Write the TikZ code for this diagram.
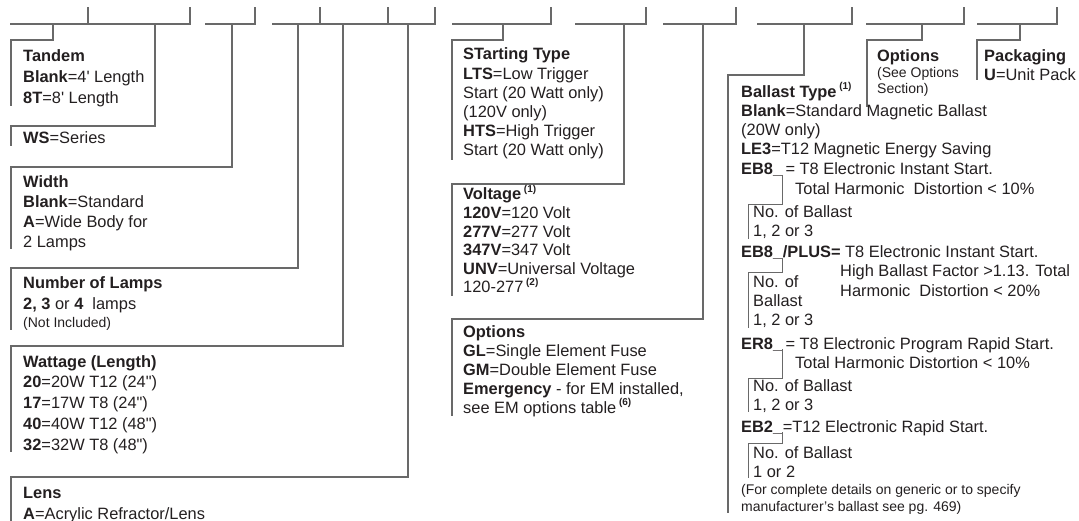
\documentclass[tikz,border=0pt]{standalone}
\usepackage{fontspec}
\setmainfont{Liberation Sans}
\definecolor{rulegray}{RGB}{105,105,105}
\definecolor{ink}{RGB}{35,31,32}
\tikzset{
  guideline/.style = { line width=1.2pt, color=rulegray },
   subguide/.style = { line width=0.9pt, color=rulegray },
      entry/.style = { anchor=base west, inner sep=0pt, align=left, text=ink,
                       font=\fontsize{16.4}{#1}\selectfont },
      entry/.default = 20,
  smallnote/.style = { anchor=base west, inner sep=0pt, align=left, text=ink,
                       font=\fontsize{14}{#1}\selectfont },
  smallnote/.default = 17
}
\newcommand*{\sel}[1]{\textbf{#1}}
\newcommand*{\fnum}[1]{\,\raisebox{0.45em}{\fontsize{10}{10}\selectfont\bfseries(#1)}}
\newcommand*{\ft}{\textquotesingle{}}
\newcommand*{\inch}{\textquotedbl{}}

\begin{document}
\begin{tikzpicture}[x=1pt, y=-1pt]
  \useasboundingbox (0,0) rectangle (1079,521);

  % catalog number line
  \foreach \a/\b in {10/190, 205/255, 272/435, 452/551, 575/646,
                     663/736, 757/852, 866/964, 977/1057} {
    \draw [guideline] (\a,24) -- (\b,24) -- (\b,7);
  }
  \foreach \x in {88, 320, 388} {
    \draw [guideline] (\x,24) -- (\x,7);
  }

  % brackets: name / drop x / left x / top y / bottom y
  \foreach \n/\x/\l/\t/\b in {tandem/53/11/40/106, series/155/11/126/146,
      width/232/11/167/249, lamps/298/11/268/330, wattage/343/11/346/452,
      lens/408/11/477/521, starting/503/452/40/160, voltage/624/452/184/296,
      options/703/452/319/416, ballast/804/728/75/513, extras/922/867/40/107,
      packing/1020/977/40/80} {
    \coordinate (\n-top) at (\x,24);
    \coordinate (\n-tl)  at (\l,\t);
    \coordinate (\n-bl)  at (\l,\b);
    \draw [guideline] (\n-top) |- (\n-tl) -- (\n-bl);
  }

  % left column (nodes sit on the baseline of their last line)
  \node [entry=21] (tandem) at (23,104)
    {\sel{Tandem}\\ \sel{Blank}=4\ft{} Length\\ \sel{8T}=8\ft{} Length};
  \node [entry] (series) at (23,144) {\sel{WS}=Series};
  \node [entry=20.3] (width) at (23,248)
    {\sel{Width}\\ \sel{Blank}=Standard\\ \sel{A}=Wide Body for\\ 2 Lamps};
  \node [entry=21] (lamps) at (23,310)
    {\sel{Number of Lamps}\\ \sel{2, 3} or \sel{4}\ \ lamps};
  \node [smallnote] (lampsnote) at (23,327) {(Not Included)};
  \node [entry=20.75] (wattage) at (23,450)
    {\sel{Wattage (Length)}\\ \sel{20}=20W T12 (24\inch)\\ \sel{17}=17W T8 (24\inch)\\
     \sel{40}=40W T12 (48\inch)\\ \sel{32}=32W T8 (48\inch)};
  \node [entry=21] (lens) at (23,519) {\sel{Lens}\\ \sel{A}=Acrylic Refractor/Lens};

  % middle column
  \node [entry=19] (starting) at (463,156)
    {\sel{STarting Type}\\[1pt] \sel{LTS}=Low Trigger\\ Start (20 Watt only)\\
     (120V only)\\ \sel{HTS}=High Trigger\\ Start (20 Watt only)};
  \node [entry=18.6] (voltage) at (463,293)
    {\sel{Voltage}\fnum{1}\\ \sel{120V}=120 Volt\\ \sel{277V}=277 Volt\\
     \sel{347V}=347 Volt\\ \sel{UNV}=Universal Voltage\\ 120-277\fnum{2}};
  \node [entry=19] (options) at (463,413)
    {\sel{Options}\\ \sel{GL}=Single Element Fuse\\ \sel{GM}=Double Element Fuse\\
     \sel{Emergency} - for EM installed,\\ see EM options table\fnum{6}};

  % right columns
  \node [entry] (extras) at (877,62) {\sel{Options}};
  \node [smallnote=16] (extrasnote) at (877,94) {(See Options\\ Section)};
  \node [entry=19] (packing) at (984,81) {\sel{Packaging}\\ \sel{U}=Unit Pack};

  % ballast
  \node [entry=19.3] (ballast) at (741,155)
    {\sel{Ballast Type}\fnum{1}\\ \sel{Blank}=Standard Magnetic Ballast\\
     (20W only)\\ \sel{LE3}=T12 Magnetic Energy Saving};

  \node [entry] (eb8) at (741,175) {\sel{EB8\_}};
  \node [entry] (eb8text) at (eb8.base east) {\,= T8 Electronic Instant Start.};
  \node [entry] (eb8thd) at (795,195) {Total Harmonic\ \ Distortion < 10\%};
  \node [entry=19] (eb8count) at (753,237) {No. of Ballast\\ 1, 2 or 3};

  \node [entry] (plus) at (741,258) {\sel{EB8\_}};
  \node [entry] (plustext) at (plus.base east) {\sel{/PLUS=} T8 Electronic Instant Start.};
  \node [entry=20] (plusthd) at (840,297)
    {High Ballast Factor >1.13. Total\\ Harmonic\ \ Distortion < 20\%};
  \node [entry=19] (pluscount) at (753,326) {No. of\\ Ballast\\ 1, 2 or 3};

  \node [entry] (er8) at (741,349) {\sel{ER8\_}};
  \node [entry] (er8text) at (er8.base east) {\,= T8 Electronic Program Rapid Start.};
  \node [entry] (er8thd) at (795,368) {Total Harmonic Distortion < 10\%};
  \node [entry=19] (er8count) at (753,410) {No. of Ballast\\ 1, 2 or 3};

  \node [entry] (eb2) at (741,432) {\sel{EB2\_}};
  \node [entry] (eb2text) at (eb2.base east) {=T12 Electronic Rapid Start.};
  \node [entry=19] (eb2count) at (753,477) {No. of Ballast\\ 1 or 2};

  \node [smallnote] (ballastnote) at (741,511)
    {(For complete details on generic or to specify\\ manufacturer's ballast see pg. 469)};

  % ballast count brackets
  \foreach \n/\t/\b in {eb8/204/239, plus/272/328, er8/378/412, eb2/443/478} {
    \coordinate (\n-tl) at (748,\t);
    \coordinate (\n-bl) at (748,\b);
    \draw [subguide] (\n.base east) |- (\n-tl) -- (\n-bl);
  }
\end{tikzpicture}
\end{document}
